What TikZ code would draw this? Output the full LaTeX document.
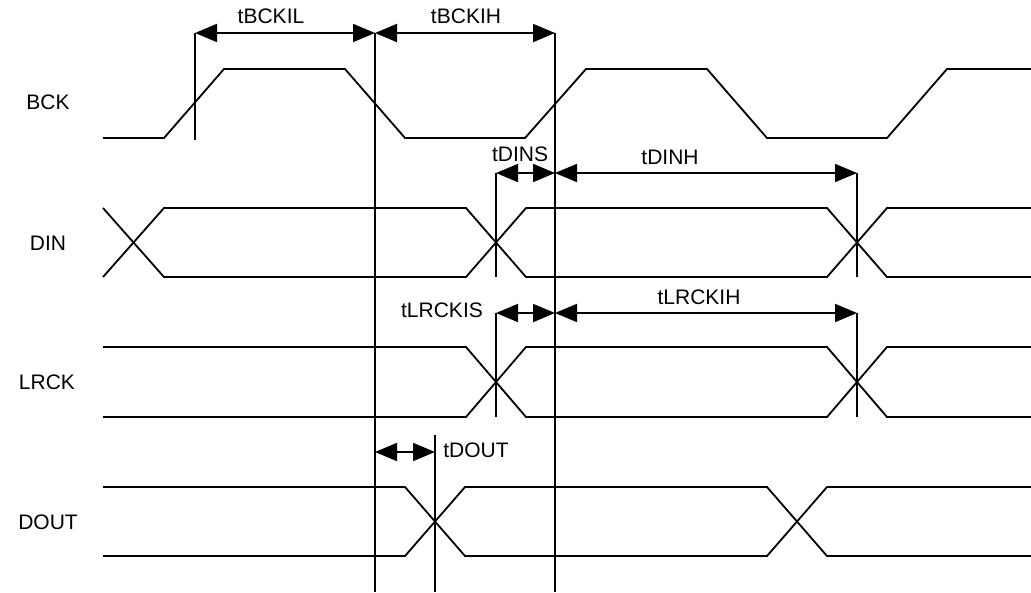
\documentclass[tikz,border=0pt]{standalone}
\usepackage{fontspec}
\setmainfont{Liberation Sans}
\usetikzlibrary{arrows.meta}

\begin{document}
\begin{tikzpicture}[x=1pt, y=-1pt, line width=1.8pt,
    dim/.style={{Triangle[length=22pt,width=18pt]}-{Triangle[length=22pt,width=18pt]}},
    lbl/.style={font=\fontsize{21}{25}\selectfont, inner sep=0pt}]

    \useasboundingbox (0,0) rectangle (1031,592);

    % Define y-coordinates for each signal level
    \def\yBCKh{69}
    \def\yBCKl{138}
    \def\yDINh{208}
    \def\yDINl{277}
    \def\yLRh{347}
    \def\yLRl{417}
    \def\yDOh{487}
    \def\yDOl{556}

    % Signal names on the left
    \node[lbl] (nBCK) at (48,102) {BCK};
    \node[lbl] (nDIN) at (48,243) {DIN};
    \node[lbl] (nLRCK) at (47,382) {LRCK};
    \node[lbl] (nDOUT) at (48,522) {DOUT};

    % BCK clock
    \draw (103,\yBCKl) -- (164,\yBCKl) -- (224,\yBCKh) -- (345,\yBCKh) -- (405,\yBCKl) -- (525,\yBCKl)
        -- (586,\yBCKh) -- (707,\yBCKh) -- (767,\yBCKl) -- (887,\yBCKl) -- (947,\yBCKh) -- (1031,\yBCKh);

    % DIN data
    \draw (103,\yDINl) -- (164,\yDINh) -- (466,\yDINh) -- (526,\yDINl) -- (827,\yDINl) -- (887,\yDINh) -- (1031,\yDINh);
    \draw (103,\yDINh) -- (164,\yDINl) -- (466,\yDINl) -- (526,\yDINh) -- (827,\yDINh) -- (887,\yDINl) -- (1031,\yDINl);

    % LRCK
    \draw (103,\yLRh) -- (466,\yLRh) -- (526,\yLRl) -- (827,\yLRl) -- (887,\yLRh) -- (1031,\yLRh);
    \draw (103,\yLRl) -- (466,\yLRl) -- (526,\yLRh) -- (827,\yLRh) -- (887,\yLRl) -- (1031,\yLRl);

    % DOUT data
    \draw (103,\yDOh) -- (405,\yDOh) -- (465,\yDOl) -- (767,\yDOl) -- (827,\yDOh) -- (1031,\yDOh);
    \draw (103,\yDOl) -- (405,\yDOl) -- (465,\yDOh) -- (767,\yDOh) -- (827,\yDOl) -- (1031,\yDOl);

    % Timing reference coordinates
    \coordinate (bckR) at (195,33);
    \coordinate (bckRb) at (195,140);
    \coordinate (bckF) at (375,33);
    \coordinate (bckFb) at (375,592);
    \coordinate (bckR2) at (555,33);
    \coordinate (bckR2b) at (555,592);
    \coordinate (dinS) at (496,173);
    \coordinate (dinSb) at (496,277);
    \coordinate (dinC) at (555,173);
    \coordinate (dinH) at (857,173);
    \coordinate (dinHb) at (857,277);
    \coordinate (lrS) at (496,313);
    \coordinate (lrSb) at (496,417);
    \coordinate (lrC) at (555,313);
    \coordinate (lrH) at (857,313);
    \coordinate (lrHb) at (857,417);
    \coordinate (doF) at (375,452);
    \coordinate (doX) at (435,452);
    \coordinate (doXt) at (435,435);
    \coordinate (doXb) at (435,592);

    % Vertical marker lines
    \draw (bckR) -- (bckRb);
    \draw (bckF) -- (bckFb);
    \draw (bckR2) -- (bckR2b);
    \draw (dinS) -- (dinSb);
    \draw (dinH) -- (dinHb);
    \draw (lrS) -- (lrSb);
    \draw (lrH) -- (lrHb);
    \draw (doXt) -- (doXb);

    % Timing arrows
    \draw[dim] (bckR) -- (bckF);
    \draw[dim] (bckF) -- (bckR2);
    \draw[dim] (dinS) -- (dinC);
    \draw[dim] (dinC) -- (dinH);
    \draw[dim] (lrS) -- (lrC);
    \draw[dim] (lrC) -- (lrH);
    \draw[dim] (doF) -- (doX);

    % Timing labels
    \node[lbl] (tBCKIL) at (271,16) {tBCKIL};
    \node[lbl] (tBCKIH) at (466,16) {tBCKIH};
    \node[lbl] (tDINS) at (520,154) {tDINS};
    \node[lbl] (tDINH) at (670,157) {tDINH};
    \node[lbl] (tLRCKIS) at (442,310) {tLRCKIS};
    \node[lbl] (tLRCKIH) at (699,297) {tLRCKIH};
    \node[lbl] (tDOUT) at (476,450) {tDOUT};

\end{tikzpicture}
\end{document}
